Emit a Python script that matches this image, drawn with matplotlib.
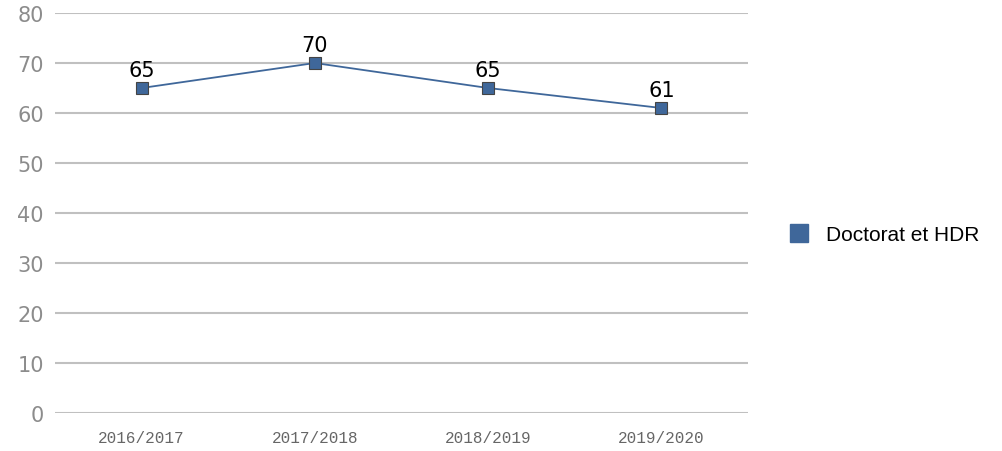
import matplotlib
matplotlib.use("Agg")
import matplotlib.pyplot as plt
from matplotlib.lines import Line2D

# data
years = ["2016/2017", "2017/2018", "2018/2019", "2019/2020"]
values = [65, 70, 65, 61]
series_name = "Doctorat et HDR"
line_color = "#3f679a"

fig = plt.figure(figsize=(10.03, 4.52), dpi=100)
ax = fig.add_axes([0.0548, 0.0841, 0.691, 0.8849])

x = list(range(len(years)))
ax.plot(x, values, color=line_color, lw=1.3, marker="s", markersize=9,
        markerfacecolor=line_color, markeredgecolor="#444444", markeredgewidth=0.8,
        zorder=3)
for xi, v in zip(x, values):
    ax.annotate(str(v), (xi, v), xytext=(0, 6), textcoords="offset points",
                ha="center", va="bottom", fontsize=15, color="black",
                family="DejaVu Sans")

ax.set_xlim(-0.5, len(years) - 0.5)
ax.set_ylim(0, 80)
ax.set_yticks(range(0, 81, 10))
ax.grid(axis="y", color="#c0c0c0", lw=1.5)
ax.set_axisbelow(True)
for s in ax.spines.values():
    s.set_visible(False)
ax.tick_params(axis="y", length=0, pad=8, labelsize=15, labelcolor="#8c8c8c")
ax.tick_params(axis="x", length=0, pad=12, labelsize=11.5, labelcolor="#666666")
ax.set_xticks(x)
ax.set_xticklabels(years, family="Liberation Mono")
for lbl in ax.get_yticklabels():
    lbl.set_family("DejaVu Sans")

handle = Line2D([], [], ls="none", marker="s", markersize=13.5,
                markerfacecolor=line_color, markeredgecolor=line_color)
fig.legend([handle], [series_name], loc="center left",
           bbox_to_anchor=(0.757, 0.478), frameon=False,
           prop={"family": "Liberation Sans", "size": 15},
           handletextpad=0.3)

fig.savefig("out.png", dpi=100)
